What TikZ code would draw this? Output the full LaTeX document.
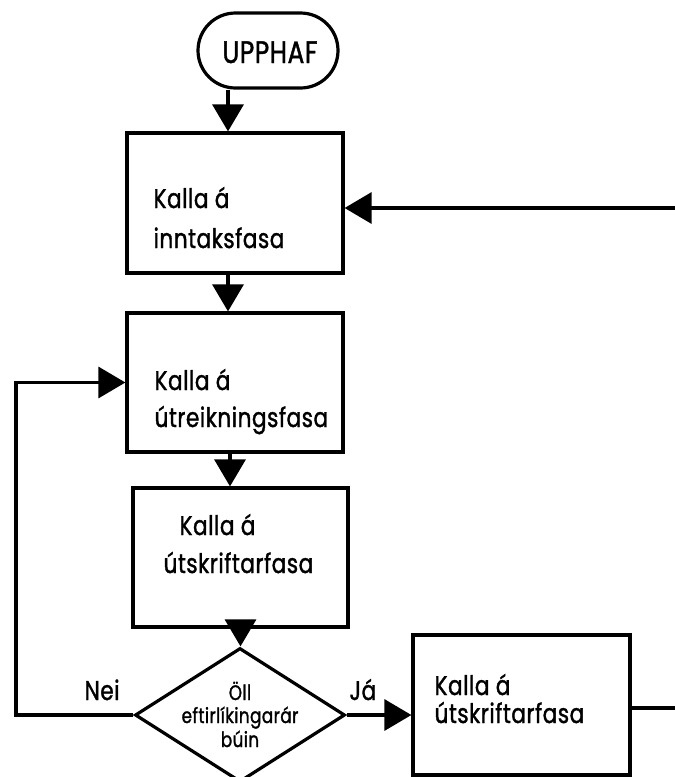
\documentclass[tikz,border=0pt]{standalone}
\usepackage{fontspec}
\setmainfont{Poppins}[FakeStretch=0.80,FakeBold=1.3,LetterSpace=2]
\usetikzlibrary{arrows.meta,shapes.misc,shapes.geometric}

\begin{document}
\begin{tikzpicture}[x=1pt,y=-1pt,
  line width=3.2pt,
  box/.style={draw, rectangle, inner sep=0pt},
  term/.style={draw, rounded rectangle, inner sep=0pt},
  decision/.style={draw, diamond, inner sep=0pt},
  txt/.style={inner sep=0pt, anchor=base west, font=\fontsize{27}{32}\selectfont},
  smalltxt/.style={inner sep=0pt, anchor=base, font=\fontsize{21}{26}\selectfont},
  arr/.style={-{Triangle[length=27pt,width=31pt]}}
]
% page frame
\fill[white] (0,0) rectangle (675,777);
\useasboundingbox (0,0) rectangle (675,777);
\clip (0,0) rectangle (675,777);

% shapes
\node[term, minimum width=140pt, minimum height=75pt] (start) at (268,50.5) {};
\node[box, minimum width=216pt, minimum height=140pt] (box1) at (235,203) {};
\node[box, minimum width=216pt, minimum height=139pt] (box2) at (235,382.5) {};
\node[box, minimum width=215pt, minimum height=139pt] (box3) at (240.5,557.5) {};
\node[decision, minimum width=210pt, minimum height=134pt] (dia) at (240,715) {};
\node[box, minimum width=217pt, minimum height=140pt] (box4) at (521.5,705) {};

% texts
\node[inner sep=0pt, anchor=base, font=\fontsize{31}{34}\selectfont] (tstart) at (270,63) {UPPHAF};
\node[txt] (t1a) at (152,208) {Kalla á};
\node[txt] (t1b) at (152,248) {inntaksfasa};
\node[txt] (t2a) at (153,390) {Kalla á};
\node[txt] (t2b) at (153,427) {útreikningsfasa};
\node[txt] (t3a) at (178,535) {Kalla á};
\node[txt] (t3b) at (162,573) {útskriftarfasa};
\node[txt] (t4a) at (433,695) {Kalla á};
\node[txt] (t4b) at (433,723) {útskriftarfasa};
\node[smalltxt] (d1) at (240,700) {Öll};
\node[smalltxt] (d2) at (240,723) {eftirlíkingarár};
\node[smalltxt] (d3) at (240,747) {búin};
\node[txt] (nei) at (83,700) {Nei};
\node[txt] (ja) at (348,700) {Já};

% off-page ends and loop corner
\coordinate (inR) at (680,208);
\coordinate (outR) at (680,708);
\coordinate (loopL) at (16,715);

% connectors
\draw[arr] ([xshift=-40pt]start.south) -- ([xshift=-40pt]start.south |- box1.north);
\draw[arr] ([xshift=-7pt]box1.south) -- ([xshift=-7pt]box2.north);
\draw[arr] ([xshift=-5pt]box2.south) -- ([xshift=-5pt]box2.south |- box3.north);
\draw[arr] (box3.south) -- (box3.south |- dia.north);
\draw[arr] (dia.west) -- (loopL) |- (box2.west);
\draw[arr] (dia.east) -- (dia.east -| box4.west);
\draw (box4.east |- outR) -- (outR);
\draw[arr] (inR) -- (inR -| box1.east);
\end{tikzpicture}
\end{document}
